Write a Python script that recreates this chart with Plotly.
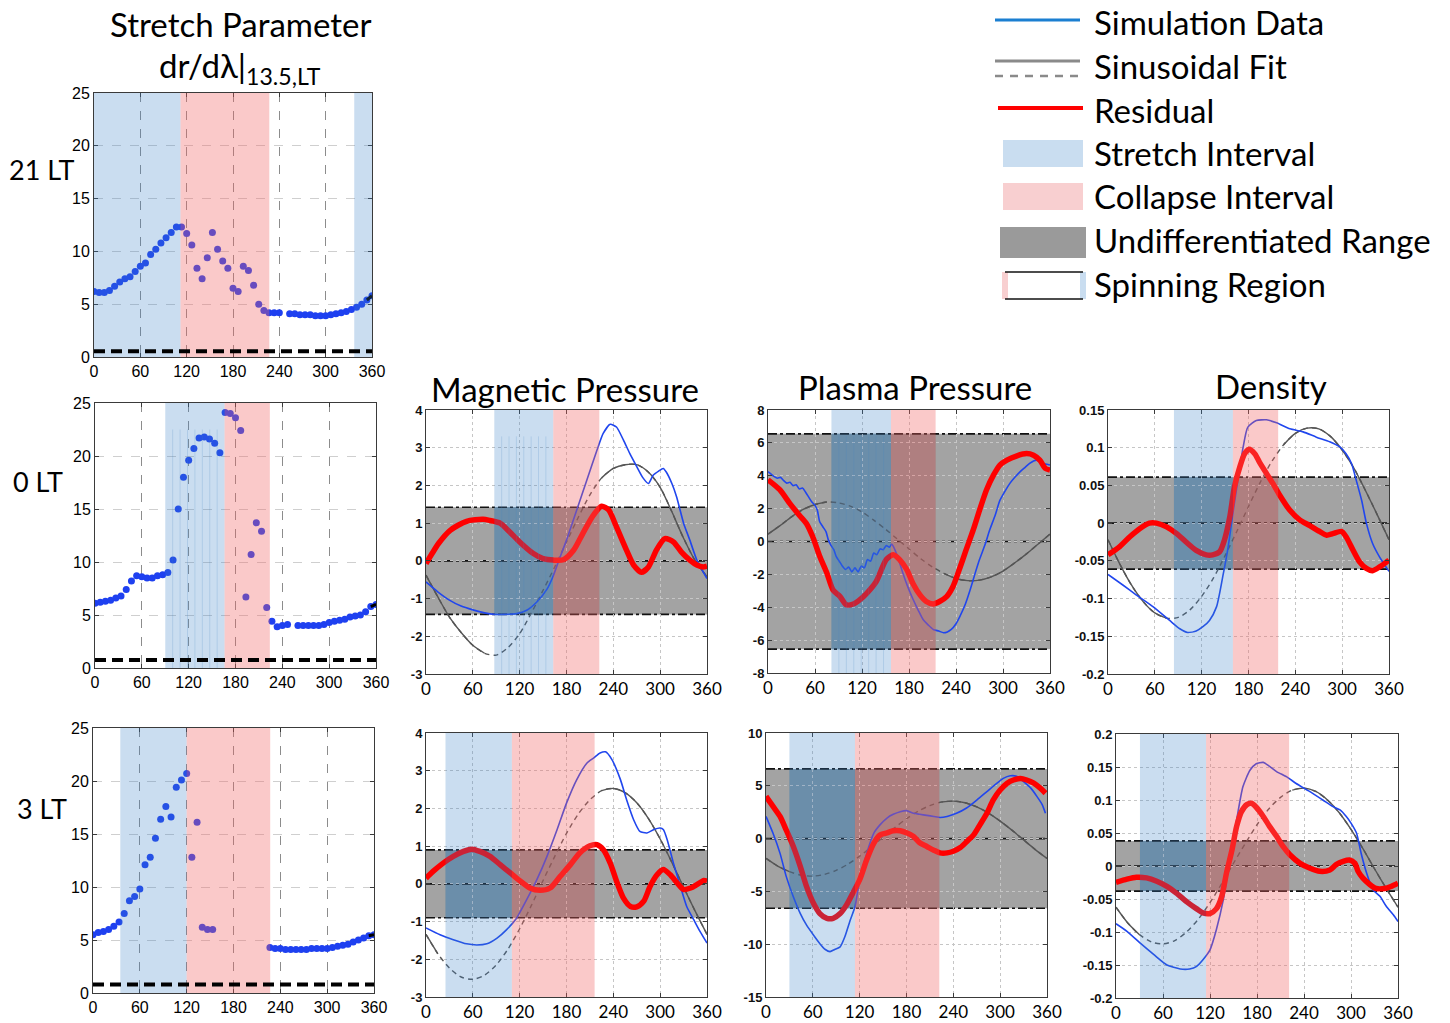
import plotly.graph_objects as go

W, H = 1450, 1023

# ---------------------------------------------------------------- data
# stretch parameter samples (one every 360/54 degrees of longitude)
lon_pts = [round(i * 360 / 54, 2) for i in range(55)]

stretch_21lt = [6.2, 6.1, 6.1, 6.3, 6.7, 7.1, 7.4, 7.6, 8.1, 8.6, 8.9, 9.7, 10.2, 10.8, 11.3,
                11.8, 12.3, 12.3, 11.7, 10.6, 8.4, 7.4, 9.4, 11.8, 10.2, 9.1, 8.4, 6.5, 6.2,
                8.6, 8.2, 6.8, 5.0, 4.4, 4.2, 4.2, 4.2, None, 4.1, 4.1, 4.0, 4.0, 4.0, 3.9,
                3.9, 3.9, 4.0, 4.1, 4.2, 4.3, 4.5, 4.7, 5.0, 5.4, 5.8]
stretch_0lt = [6.1, 6.2, 6.3, 6.4, 6.6, 6.8, 7.4, 8.2, 8.7, 8.6, 8.5, 8.5, 8.7, 8.8, 9.0,
               10.2, 15.0, 18.0, 19.6, 20.7, 21.7, 21.8, 21.6, 21.2, 20.3, 24.1, 24.0, 23.6,
               22.4, 6.7, 10.7, 13.7, 12.9, 5.7, 4.4, 3.9, 4.0, 4.1, None, 4.0, 4.0, 4.0, 4.0,
               4.0, 4.1, 4.3, 4.4, 4.5, 4.6, 4.8, 4.9, 5.0, 5.3, 5.8, 6.0]
stretch_3lt = [5.5, 5.7, 5.8, 6.0, 6.3, 6.7, 7.5, 8.7, 9.1, 9.8, 12.1, 12.8, 14.6, 16.4, 17.6,
               16.6, 19.4, 20.1, 20.7, 12.8, 16.1, 6.2, 6.0, 6.0, None, None, None, None, None,
               None, None, None, None, None, 4.3, 4.2, 4.2, 4.1, 4.1, 4.1, 4.1, 4.1, 4.2, 4.2,
               4.2, 4.2, 4.3, 4.4, 4.5, 4.6, 4.8, 5.0, 5.2, 5.4, 5.5]
stretch_threshold = [0.55, 0.75, 0.8]

# sinusoidal fits sampled every 15 degrees
lon_fit = list(range(0, 361, 15))

# ---- 0 LT, magnetic pressure
mag0_lon = [0, 15, 30, 45, 60, 75, 88, 100, 116, 129, 142, 155, 163, 170, 180, 193, 206, 219,
            227, 236, 244, 253, 261, 270, 278, 285, 291, 298, 304, 308, 315, 321, 330, 338, 347, 360]
mag0_sim = [-0.56, -0.82, -1.04, -1.2, -1.3, -1.38, -1.42, -1.42, -1.40, -1.31, -1.09, -0.75,
            -0.4, 0.0, 0.55, 1.34, 2.14, 2.93, 3.38, 3.62, 3.55, 3.2, 2.85, 2.5, 2.2, 2.05,
            2.27, 2.38, 2.45, 2.35, 2.05, 1.7, 1.0, 0.55, 0.02, -0.47]
mag0_fit = [-0.38, -0.95, -1.49, -1.9, -2.24, -2.45, -2.5, -2.3, -1.93, -1.38, -0.78, -0.16,
            0.5, 1.15, 1.75, 2.2, 2.45, 2.55, 2.55, 2.35, 1.95, 1.3, 0.6, 0.0, -0.42]
mag0_res_lon = [0, 8, 16, 31, 52, 73, 82, 95, 107, 120, 137, 150, 163, 176, 189, 201, 214, 225,
                234, 244, 257, 266, 276, 285, 295, 306, 317, 327, 338, 347, 355, 360]
mag0_res = [-0.07, 0.2, 0.46, 0.81, 1.05, 1.1, 1.07, 1.0, 0.77, 0.5, 0.2, 0.06, 0.02, 0.03,
            0.28, 0.73, 1.2, 1.45, 1.35, 0.9, 0.28, -0.11, -0.3, -0.16, 0.28, 0.59, 0.5, 0.24,
            0.02, -0.11, -0.16, -0.14]

# ---- 0 LT, plasma pressure
pla0_lon = [0, 4, 8, 12, 16, 20, 24, 28, 32, 36, 40, 44, 48, 52, 56, 60, 63, 66, 70, 74, 77, 80,
            84, 87, 91, 95, 99, 103, 107, 111, 115, 119, 123, 127, 131, 135, 139, 143, 147, 151,
            155, 158, 160, 166, 172, 178, 185, 192, 198, 205, 211, 218, 224, 229, 234, 240, 245,
            252, 258, 264, 270, 277, 283, 290, 296, 303, 309, 316, 322, 328, 334, 339, 343, 347,
            351, 356, 360]
pla0_sim = [4.25, 4.1, 3.95, 3.85, 3.9, 3.7, 3.55, 3.6, 3.4, 3.45, 3.2, 3.25, 3.0, 2.7, 2.4,
            2.2, 1.9, 1.2, 0.9, 0.6, 0.1, -0.2, -0.5, -0.9, -1.2, -1.5, -1.7, -1.55, -1.85,
            -1.6, -1.85, -1.5, -1.6, -1.1, -1.2, -0.7, -0.8, -0.45, -0.5, -0.25, -0.35, -0.15,
            -0.3, -1.0, -1.9, -2.7, -3.5, -4.2, -4.75, -5.1, -5.35, -5.45, -5.55, -5.5, -5.35,
            -5.0, -4.55, -3.8, -2.95, -2.0, -1.1, -0.2, 0.7, 1.6, 2.5, 3.1, 3.55, 3.95, 4.25,
            4.5, 4.75, 4.9, 4.95, 4.85, 4.75, 4.7, 4.65]
pla0_fit = [0.45, 0.95, 1.5, 1.95, 2.25, 2.4, 2.35, 2.15, 1.8, 1.3, 0.75, 0.15, -0.45, -1.05,
            -1.55, -1.95, -2.25, -2.38, -2.35, -2.15, -1.8, -1.3, -0.75, -0.15, 0.45]
pla0_res_lon = [0, 15, 28, 40, 49, 57, 66, 75, 83, 92, 100, 109, 117, 126, 138, 151, 160, 168,
                177, 185, 194, 202, 211, 219, 228, 236, 245, 253, 262, 270, 279, 288, 296, 305,
                317, 330, 339, 347, 354, 360]
pla0_res = [3.75, 3.15, 2.3, 1.6, 1.1, 0.3, -0.9, -1.9, -2.95, -3.35, -3.85, -3.8, -3.55,
            -3.15, -2.45, -1.1, -0.8, -1.1, -1.7, -2.55, -3.25, -3.65, -3.8, -3.65, -3.35,
            -2.75, -1.6, -0.5, 0.7, 1.9, 3.15, 4.05, 4.65, 4.95, 5.2, 5.35, 5.25, 4.95, 4.45,
            4.35]

# ---- 0 LT, density
den0_lon = [0, 19, 36, 58, 79, 92, 102, 113, 122, 130, 139, 147, 154, 160, 167, 173, 179, 190,
            203, 216, 233, 250, 267, 284, 297, 305, 312, 318, 325, 331, 339, 348, 360]
den0_sim = [-0.068, -0.082, -0.095, -0.111, -0.129, -0.14, -0.145, -0.143, -0.137, -0.129,
            -0.111, -0.071, -0.031, 0.013, 0.061, 0.10, 0.127, 0.136, 0.137, 0.133, 0.125,
            0.121, 0.114, 0.108, 0.101, 0.092, 0.079, 0.057, 0.030, 0.0, -0.027, -0.045, -0.064]
den0_fit = [-0.022, -0.054, -0.082, -0.104, -0.119, -0.126, -0.125, -0.115, -0.097, -0.073,
            -0.043, -0.011, 0.022, 0.054, 0.082, 0.104, 0.119, 0.126, 0.125, 0.115, 0.097,
            0.073, 0.043, 0.011, -0.022]
den0_res_lon = [0, 15, 28, 41, 53, 62, 75, 88, 100, 113, 126, 134, 143, 149, 156, 162, 169, 175,
                181, 188, 194, 203, 211, 220, 233, 246, 258, 271, 280, 288, 299, 305, 314, 322,
                331, 339, 348, 360]
den0_res = [-0.042, -0.031, -0.018, -0.007, 0.0, 0.0, -0.005, -0.014, -0.025, -0.036, -0.042,
            -0.042, -0.038, -0.023, 0.008, 0.048, 0.075, 0.092, 0.098, 0.092, 0.081, 0.066,
            0.053, 0.037, 0.017, 0.004, -0.003, -0.011, -0.016, -0.014, -0.011, -0.018,
            -0.036, -0.051, -0.060, -0.063, -0.058, -0.049]

# ---- 3 LT, magnetic pressure
mag3_lon = [0, 18, 35, 52, 65, 78, 91, 103, 116, 129, 142, 155, 168, 180, 193, 206, 215, 223,
            230, 238, 249, 257, 266, 274, 283, 292, 300, 304, 309, 317, 326, 334, 343, 351, 360]
mag3_sim = [-1.17, -1.35, -1.48, -1.59, -1.62, -1.59, -1.44, -1.22, -0.91, -0.42, 0.11, 0.73,
            1.44, 2.14, 2.76, 3.2, 3.34, 3.47, 3.5, 3.3, 2.77, 2.23, 1.7, 1.39, 1.35, 1.44,
            1.48, 1.44, 1.17, 0.55, -0.07, -0.6, -0.95, -1.26, -1.57]
mag3_fit = [-1.34, -1.85, -2.23, -2.47, -2.53, -2.42, -2.15, -1.73, -1.19, -0.57, 0.09, 0.73,
            1.34, 1.85, 2.23, 2.47, 2.53, 2.42, 2.15, 1.73, 1.19, 0.57, -0.09, -0.73, -1.34]
mag3_res_lon = [0, 9, 22, 35, 48, 59, 69, 82, 95, 108, 121, 133, 146, 159, 172, 185, 197, 210,
                219, 227, 236, 245, 253, 262, 270, 279, 287, 296, 304, 313, 322, 330, 339, 347,
                356, 360]
mag3_res = [0.15, 0.33, 0.55, 0.73, 0.86, 0.92, 0.86, 0.73, 0.51, 0.29, 0.07, -0.11, -0.17,
            -0.11, 0.2, 0.51, 0.82, 1.01, 1.04, 0.91, 0.55, 0.02, -0.38, -0.6, -0.61, -0.46,
            -0.07, 0.24, 0.38, 0.24, 0.02, -0.15, -0.11, -0.02, 0.09, 0.07]

# ---- 3 LT, plasma pressure
pla3_lon = [0, 9, 18, 26, 35, 44, 52, 61, 69, 76, 82, 88, 95, 101, 108, 114, 120, 129, 138,
            146, 155, 163, 172, 180, 189, 197, 206, 215, 223, 232, 244, 257, 270, 283, 296,
            304, 313, 321, 330, 339, 347, 354, 358]
pla3_sim = [2.1, 0.5, -1.4, -3.6, -5.5, -7.1, -8.2, -9.15, -9.95, -10.5, -10.7, -10.5, -10.25,
            -9.3, -7.7, -6.45, -3.9, -1.4, 0.5, 1.3, 1.95, 2.3, 2.55, 2.65, 2.4, 2.3, 2.2, 2.1,
            2.0, 2.1, 2.4, 2.9, 3.65, 4.45, 5.25, 5.7, 5.95, 5.9, 5.4, 4.8, 4.0, 3.2, 2.4]
pla3_fit = [-1.88, -2.6, -3.13, -3.46, -3.55, -3.39, -3.01, -2.42, -1.66, -0.8, 0.12, 1.04,
            1.88, 2.6, 3.13, 3.46, 3.55, 3.39, 3.01, 2.42, 1.66, 0.8, -0.12, -1.04, -1.88]
pla3_res_lon = [0, 9, 18, 26, 35, 44, 52, 61, 69, 78, 86, 95, 103, 112, 120, 129, 138, 146, 155,
                163, 172, 180, 189, 197, 206, 215, 223, 232, 240, 249, 257, 266, 274, 283, 291,
                300, 309, 317, 326, 334, 343, 351, 358]
pla3_res = [4.0, 3.05, 2.1, 0.8, -0.75, -2.65, -4.55, -6.15, -7.1, -7.55, -7.55, -7.1, -6.3,
            -5.05, -3.9, -2.0, -0.45, 0.35, 0.55, 0.75, 0.75, 0.55, 0.2, -0.4, -0.75, -1.1,
            -1.35, -1.35, -1.2, -0.85, -0.3, 0.35, 1.3, 2.4, 3.65, 4.6, 5.25, 5.55, 5.7, 5.55,
            5.25, 4.8, 4.3]

# ---- 3 LT, density
den3_lon = [0, 14, 31, 48, 65, 82, 94, 103, 111, 120, 128, 137, 145, 154, 162, 171, 179, 188,
            196, 205, 218, 230, 247, 264, 277, 286, 294, 300, 307, 313, 320, 328, 337, 345, 354, 360]
den3_sim = [-0.0875, -0.099, -0.117, -0.134, -0.15, -0.156, -0.156, -0.152, -0.142, -0.127,
            -0.097, -0.051, 0.009, 0.07, 0.12, 0.145, 0.155, 0.157, 0.151, 0.143, 0.135, 0.125,
            0.113, 0.1, 0.09, 0.085, 0.075, 0.065, 0.05, 0.019, -0.011, -0.036, -0.046,
            -0.061, -0.074, -0.084]
den3_fit = [-0.0625, -0.0863, -0.104, -0.115, -0.118, -0.113, -0.1, -0.0807, -0.0555, -0.0266,
            0.0042, 0.034, 0.0625, 0.0863, 0.104, 0.115, 0.118, 0.113, 0.1, 0.0807, 0.0555,
            0.0266, -0.0042, -0.034, -0.0625]
den3_res_lon = [0, 14, 26, 39, 52, 65, 77, 90, 103, 111, 120, 128, 135, 141, 148, 154, 160, 167,
                173, 179, 188, 196, 205, 213, 222, 235, 247, 260, 273, 281, 290, 298, 305, 309,
                315, 324, 332, 343, 351, 360]
den3_res = [-0.025, -0.02, -0.017, -0.018, -0.023, -0.031, -0.041, -0.054, -0.065, -0.071,
            -0.072, -0.065, -0.046, -0.011, 0.024, 0.06, 0.082, 0.093, 0.095, 0.089, 0.075,
            0.06, 0.045, 0.03, 0.017, 0.004, -0.003, -0.008, -0.006, 0.002, 0.007, 0.009,
            0.004, -0.008, -0.018, -0.028, -0.034, -0.034, -0.031, -0.026]

# stretch / collapse intervals (degrees) and undifferentiated half-ranges
stretch_iv = {1: [(0, 112), (337, 360)], 2: [(90, 166)], 3: [(35, 120)],
              4: [(87.5, 163)], 5: [(81, 157)], 6: [(84.5, 160)],
              7: [(25, 110)], 8: [(30, 114)], 9: [(30.6, 115)]}
collapse_iv = {1: (112, 227), 2: (166, 224), 3: (120, 227),
               4: (163, 222), 5: (157, 214), 6: (160, 218),
               7: (110, 216), 8: (114, 222), 9: (115, 221)}
band_half = {4: 1.42, 5: 6.55, 6: 0.061, 7: 0.9, 8: 6.6, 9: 0.038}

lon_ticks = [0, 60, 120, 180, 240, 300, 360]

# ---------------------------------------------------------------- styling
FONT_TXT = "Lato, 'Open Sans', sans-serif"
FONT_NUM = "'Liberation Sans', Arial, sans-serif"
BLUE_OVER = "rgba(60,130,200,0.27)"
PINK_OVER = "rgba(240,100,100,0.35)"
BAND = "#a3a3a3"
BAND_UNDER_BLUE = "#7d939f"
BAND_UNDER_PINK = "#8d8e8f"
SIM_BLUE = "#2046ee"
FIT_GRAY = "#555555"
DOT_BLUE = "#1e40f0"

# pixel boxes of each panel: left, right, top, bottom
boxes = {1: (94, 372, 93, 357), 2: (95, 376, 403, 668), 3: (93, 374, 728, 993),
         4: (426, 707, 410, 674), 5: (768, 1050, 410, 673), 6: (1108, 1389, 410, 674),
         7: (426, 707, 733, 997), 8: (766, 1047, 733, 997), 9: (1116, 1398, 734, 998)}

fig = go.Figure()
shapes = []
annotations = []
layout = {}


def ax_names(k):
    s = "" if k == 1 else str(k)
    return "x" + s, "y" + s, "xaxis" + s, "yaxis" + s


def fmt(v):
    return "%g" % v


def setup_axes(k, yrange, yticks, col1):
    xn, yn, xk, yk = ax_names(k)
    x0, x1, y0, y1 = boxes[k]
    common = dict(showline=True, linecolor="#3a3a3a", linewidth=1, mirror="ticks",
                  ticks="inside", ticklen=4, tickcolor="#3a3a3a", zeroline=False,
                  showgrid=True, gridwidth=1, automargin=False, fixedrange=True)
    if col1:
        xgrid = dict(gridcolor="#8c8c8c", griddash="dash")
        ygrid = dict(gridcolor="#cfcfcf", griddash="dash")
        xfont = dict(family=FONT_NUM, size=16, color="black")
        yfont = dict(family=FONT_NUM, size=16, color="black")
    else:
        xgrid = dict(gridcolor="#c6c6c6", griddash="dot")
        ygrid = dict(gridcolor="#c6c6c6", griddash="dot")
        xfont = dict(family=FONT_TXT, size=17, color="black")
        yfont = dict(family=FONT_NUM, size=13, color="#111", weight="bold")
    layout[xk] = dict(domain=[x0 / W, x1 / W], anchor=yn, range=[0, 360],
                      tickvals=lon_ticks, ticktext=[str(v) for v in lon_ticks],
                      tickfont=xfont, **xgrid, **common)
    layout[yk] = dict(domain=[1 - y1 / H, 1 - y0 / H], anchor=xn, range=yrange,
                      tickvals=yticks, ticktext=[fmt(v) for v in yticks],
                      tickfont=yfont, **ygrid, **common)


def add_intervals(k, stripes=0):
    xn, yn, _, _ = ax_names(k)
    for (a, b) in stretch_iv[k]:
        shapes.append(dict(type="rect", xref=xn, yref=yn + " domain", x0=a, x1=b, y0=0, y1=1,
                           fillcolor=BLUE_OVER, line=dict(width=0), layer="above"))
        for i in range(1, stripes):
            xs = a + (b - a) * i / stripes
            shapes.append(dict(type="line", xref=xn, yref=yn + " domain", x0=xs, x1=xs,
                               y0=0, y1=0.9, line=dict(color="rgba(70,135,195,0.2)", width=1),
                               layer="above"))
    a, b = collapse_iv[k]
    shapes.append(dict(type="rect", xref=xn, yref=yn + " domain", x0=a, x1=b, y0=0, y1=1,
                       fillcolor=PINK_OVER, line=dict(width=0), layer="above"))


def stretch_panel(k, values, thr):
    xn, yn, _, _ = ax_names(k)
    setup_axes(k, [0, 25], [0, 5, 10, 15, 20, 25], True)
    fig.add_trace(go.Scatter(x=lon_pts, y=values, mode="markers", xaxis=xn, yaxis=yn,
                             marker=dict(size=7, color=DOT_BLUE, line=dict(width=0)),
                             hoverinfo="skip"))
    fig.add_trace(go.Scatter(x=lon_pts[-2:], y=values[-2:], mode="lines", xaxis=xn, yaxis=yn,
                             line=dict(color="black", width=3), hoverinfo="skip"))
    add_intervals(k, stripes=8 if k == 2 else 0)
    shapes.append(dict(type="line", xref=xn, yref=yn, x0=0, x1=360, y0=thr, y1=thr,
                       line=dict(color="black", width=4, dash="11px,6px"), layer="above"))


def curve_panel(k, sim_lon, sim, fit, res_lon, res, yrange, yticks, stripes=0):
    xn, yn, _, _ = ax_names(k)
    setup_axes(k, yrange, yticks, False)
    b = band_half[k]
    s0 = stretch_iv[k][0][0]
    s1 = stretch_iv[k][0][1]
    c0, c1 = collapse_iv[k]
    shapes.append(dict(type="rect", xref=xn, yref=yn, x0=0, x1=360, y0=-b, y1=b,
                       fillcolor=BAND, line=dict(width=0), layer="below"))
    shapes.append(dict(type="rect", xref=xn, yref=yn, x0=s0, x1=s1, y0=-b, y1=b,
                       fillcolor=BAND_UNDER_BLUE, line=dict(width=0), layer="below"))
    shapes.append(dict(type="rect", xref=xn, yref=yn, x0=c0, x1=c1, y0=-b, y1=b,
                       fillcolor=BAND_UNDER_PINK, line=dict(width=0), layer="below"))
    for yv in (-b, 0, b):
        shapes.append(dict(type="line", xref=xn, yref=yn, x0=0, x1=360, y0=yv, y1=yv,
                           line=dict(color="#111", width=1.6, dash="dashdot"), layer="below"))
    # fit: dashed across the stretch + collapse span, solid elsewhere
    fig.add_trace(go.Scatter(x=lon_fit, y=fit, mode="lines", xaxis=xn, yaxis=yn,
                             line=dict(color=FIT_GRAY, width=1.4, dash="5px,4px", shape="spline",
                                       smoothing=0.8), hoverinfo="skip"))
    solid = [v if (x <= s0 or x >= c1) else None for x, v in zip(lon_fit, fit)]
    fig.add_trace(go.Scatter(x=lon_fit, y=solid, mode="lines", xaxis=xn, yaxis=yn,
                             line=dict(color=FIT_GRAY, width=1.4, shape="spline", smoothing=0.8),
                             hoverinfo="skip"))
    fig.add_trace(go.Scatter(x=sim_lon, y=sim, mode="lines", xaxis=xn, yaxis=yn,
                             line=dict(color=SIM_BLUE, width=1.6, shape="spline", smoothing=0.6),
                             hoverinfo="skip"))
    fig.add_trace(go.Scatter(x=res_lon, y=res, mode="lines", xaxis=xn, yaxis=yn,
                             line=dict(color="#ff0000", width=5.5, shape="spline", smoothing=0.7),
                             hoverinfo="skip"))
    add_intervals(k, stripes)


stretch_panel(1, stretch_21lt, stretch_threshold[0])
stretch_panel(2, stretch_0lt, stretch_threshold[1])
stretch_panel(3, stretch_3lt, stretch_threshold[2])

curve_panel(4, mag0_lon, mag0_sim, mag0_fit, mag0_res_lon, mag0_res,
            [-3, 4], [-3, -2, -1, 0, 1, 2, 3, 4], stripes=8)
curve_panel(5, pla0_lon, pla0_sim, pla0_fit, pla0_res_lon, pla0_res,
            [-8, 8], [-8, -6, -4, -2, 0, 2, 4, 6, 8], stripes=8)
curve_panel(6, den0_lon, den0_sim, den0_fit, den0_res_lon, den0_res,
            [-0.2, 0.15], [-0.2, -0.15, -0.1, -0.05, 0, 0.05, 0.1, 0.15])
curve_panel(7, mag3_lon, mag3_sim, mag3_fit, mag3_res_lon, mag3_res,
            [-3, 4], [-3, -2, -1, 0, 1, 2, 3, 4])
curve_panel(8, pla3_lon, pla3_sim, pla3_fit, pla3_res_lon, pla3_res,
            [-15, 10], [-15, -10, -5, 0, 5, 10])
curve_panel(9, den3_lon, den3_sim, den3_fit, den3_res_lon, den3_res,
            [-0.2, 0.2], [-0.2, -0.15, -0.1, -0.05, 0, 0.05, 0.1, 0.15, 0.2])


# ---------------------------------------------------------------- text
def px(x, y):
    return x / W, 1 - y / H


def label(text, x, y, size, anchor="center"):
    xp, yp = px(x, y)
    annotations.append(dict(text=text, x=xp, y=yp, xref="paper", yref="paper",
                            xanchor=anchor, yanchor="middle", showarrow=False,
                            font=dict(family=FONT_TXT, size=size, color="black")))


label("Stretch Parameter", 240, 24, 33)
label("dr/dλ|<sub>13.5,LT</sub>", 240, 68, 33)
label("Magnetic Pressure", 565, 389, 33)
label("Plasma Pressure", 915, 387, 33)
label("Density", 1271, 386, 33)
label("21 LT", 42, 170, 27)
label("0 LT", 38, 481, 27)
label("3 LT", 42, 808, 27)


# ---------------------------------------------------------------- legend
def pline(x0, x1, y, color, width, dash="solid"):
    a, b = px(x0, y)
    c, _ = px(x1, y)
    shapes.append(dict(type="line", xref="paper", yref="paper", x0=a, x1=c, y0=b, y1=b,
                       line=dict(color=color, width=width, dash=dash)))


def prect(x0, x1, y0, y1, color):
    a, b = px(x0, y1)
    c, d = px(x1, y0)
    shapes.append(dict(type="rect", xref="paper", yref="paper", x0=a, x1=c, y0=b, y1=d,
                       fillcolor=color, line=dict(width=0)))


pline(995, 1080, 20, "#1b7fd1", 3)
pline(995, 1080, 61, "#8a8a8a", 3)
pline(995, 1080, 76, "#8a8a8a", 2.5, "8px,7px")
pline(998, 1083, 108, "#ff0000", 4)
prect(1003, 1083, 140, 167, "#c9ddf0")
prect(1003, 1083, 183, 210, "#f8cfd0")
prect(1000, 1086, 227, 258, "#9a9a9a")
prect(1002, 1008, 272, 299, "#f8cfd0")
prect(1080, 1086, 272, 299, "#c9ddf0")
pline(1005, 1083, 272, "#111", 1.5)
pline(1005, 1083, 299, "#111", 1.5)

legend_items = ["Simulation Data", "Sinusoidal Fit", "Residual", "Stretch Interval",
                "Collapse Interval", "Undifferentiated Range", "Spinning Region"]
legend_y = [22, 66, 110, 153, 196, 240, 284]
for txt, yy in zip(legend_items, legend_y):
    label(txt, 1092, yy, 33, anchor="left")

fig.update_layout(width=W, height=H, margin=dict(l=0, r=0, t=0, b=0, autoexpand=False),
                  paper_bgcolor="white", plot_bgcolor="white", showlegend=False,
                  shapes=shapes, annotations=annotations, **layout)

fig.write_html("out.html")
